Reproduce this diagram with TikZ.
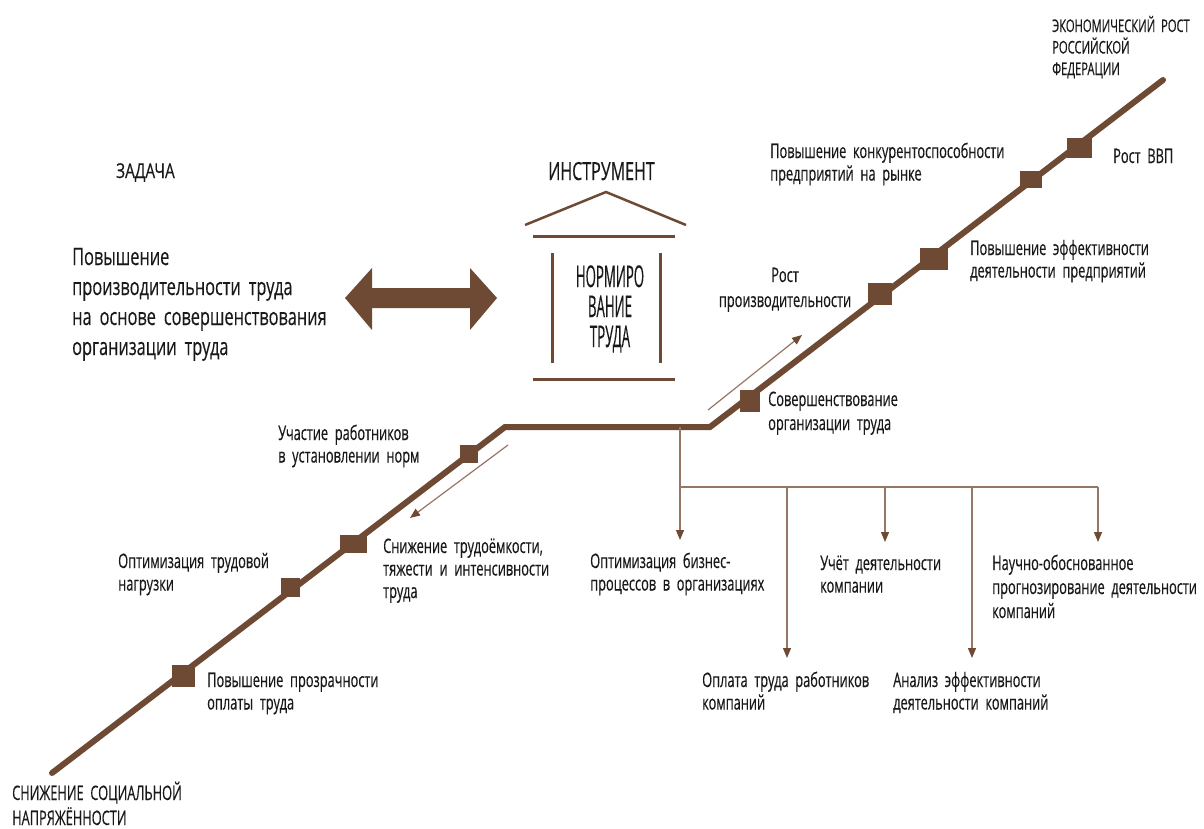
\documentclass[tikz,border=0pt]{standalone}
\usepackage{fontspec}
\setmainfont{Open Sans}
\newfontfamily\cf[FakeStretch=0.64,FakeBold=0.3]{Open Sans}
\newfontfamily\cfb[FakeStretch=0.68,FakeBold=0.3]{Open Sans}
\newfontfamily\cfc[FakeStretch=0.75,FakeBold=0.3]{Open Sans}
\newfontfamily\cfn[FakeStretch=0.44,FakeBold=0.3]{Open Sans}
\newcommand\wsSmall{\spaceskip=4.6pt plus 1pt minus 0.5pt\relax}
\newcommand\wsBig{\spaceskip=6pt plus 1pt minus 0.5pt\relax}
\newcommand\wsCaps{\spaceskip=5pt plus 1pt minus 0.5pt\relax}
\usetikzlibrary{arrows.meta}
\definecolor{brn}{RGB}{110,74,52}
\definecolor{thinc}{RGB}{150,118,100}
\definecolor{txt}{RGB}{25,25,25}
\tikzset{
  lbl/.style={anchor=base west, inner sep=0pt, text width=330pt, align=left, text=txt,
              font=\cf\fontsize{20}{22.5}\selectfont\wsSmall},
  clbl/.style={anchor=base, inner sep=0pt, text width=220pt, align=center, text=txt,
              font=\cf\fontsize{20}{25}\selectfont\wsSmall},
  mainline/.style={draw=brn, line width=6pt, line cap=round, line join=miter},
  stepmark/.style={fill=brn, draw=none},
  building/.style={draw=brn, line width=3pt},
  thinline/.style={draw=thinc, line width=1.2pt},
  tarrow/.style={draw=thinc, line width=1.2pt, -{Triangle[length=10pt,width=8pt,color=brn]}},
}
\begin{document}
\begin{tikzpicture}[x=1pt,y=-1pt]
\useasboundingbox[fill=white] (0,0) rectangle (1204,828);

% ---------- main staircase line ----------
\coordinate (p0) at (52,773);
\coordinate (p1) at (505,427);
\coordinate (p2) at (710,427);
\coordinate (p3) at (1163,80);
\draw[mainline] (p0) -- (p1) -- (p2) -- (p3);

% step markers
\fill[stepmark] (172,665) rectangle (195,687);
\fill[stepmark] (281,578) rectangle (300,597);
\fill[stepmark] (340,535) rectangle (367,553);
\fill[stepmark] (460,445) rectangle (478,463);
\fill[stepmark] (740,390) rectangle (760,412);
\fill[stepmark] (868,283) rectangle (892,305);
\fill[stepmark] (920,248) rectangle (948,270);
\fill[stepmark] (1020,171) rectangle (1042,188);
\fill[stepmark] (1067,138) rectangle (1092,158);

% ---------- headings ----------
\node[anchor=base west, inner sep=0pt, text=txt, font=\cfc\fontsize{20.5}{22}\selectfont] (zad) at (116,178) {ЗАДАЧА};
\node[anchor=base west, inner sep=0pt, text=txt, font=\cf\fontsize{25}{26}\selectfont] (instr) at (548,180) {ИНСТРУМЕНТ};

\node[lbl, font=\cfb\fontsize{24}{30}\selectfont\wsBig] (task) at (72,265)
  {Повышение\\производительности труда\\на основе совершенствования\\организации труда};

% double arrow
\fill[brn] (345,298) -- (372,268) -- (372,288) -- (470,288) -- (470,268) -- (497,298)
  -- (470,330) -- (470,308) -- (372,308) -- (372,330) -- cycle;

% ---------- building ----------
\draw[building, line width=2.5pt] (525,225) -- (606,192) -- (686,225);
\draw[building] (533,236) -- (675,236);
\draw[building] (552,253) -- (552,363);
\draw[building] (660,253) -- (660,363);
\draw[building] (533,379) -- (675,379);
\node[clbl, text width=120pt, font=\cfn\fontsize{30}{30}\selectfont] (norm) at (610,287) {НОРМИРО\\ВАНИЕ\\ТРУДА};

% ---------- lower-left labels ----------
\node[lbl] (uch) at (278,440) {Участие работников\\в установлении норм};
\node[lbl] (opt) at (118,568) {Оптимизация трудовой\\нагрузки};
\node[lbl] (snz) at (383,553) {Снижение трудоёмкости,\\тяжести и интенсивности\\труда};
\node[lbl] (prz) at (207,687) {Повышение прозрачности\\оплаты труда};
\node[lbl, font=\cf\fontsize{20}{25}\selectfont\wsCaps] (soc) at (12,800) {СНИЖЕНИЕ СОЦИАЛЬНОЙ\\НАПРЯЖЁННОСТИ};

% ---------- upper-right labels ----------
\node[lbl, font=\cf\fontsize{20}{24}\selectfont\wsSmall] (sov) at (768,406) {Совершенствование\\организации труда};
\node[clbl] (rpr) at (785,282) {Рост\\производительности};
\node[lbl] (eff) at (970,255) {Повышение эффективности\\деятельности предприятий};
\node[lbl] (kon) at (770,158) {Повышение конкурентоспособности\\предприятий на рынке};
\node[lbl] (vvp) at (1113,163) {Рост ВВП};
\node[lbl, font=\cf\fontsize{17.5}{21.5}\selectfont\wsCaps] (eco) at (1052,32) {ЭКОНОМИЧЕСКИЙ РОСТ\\РОССИЙСКОЙ\\ФЕДЕРАЦИИ};

% ---------- thin direction arrows ----------
\coordinate (d1s) at (508,445);
\coordinate (d1e) at (410,518);
\draw[tarrow] (d1s) -- (d1e);
\coordinate (d2s) at (708,410);
\coordinate (d2e) at (802,335);
\draw[tarrow] (d2s) -- (d2e);

% ---------- tree of results ----------
\coordinate (t0) at (680,427);
\coordinate (h0) at (680,487);
\coordinate (h5) at (1098,487);
\coordinate (h2) at (787,487);
\coordinate (h3) at (885,487);
\coordinate (h4) at (972,487);
\coordinate (e1) at (680,540);
\coordinate (e2) at (787,658);
\coordinate (e3) at (885,542);
\coordinate (e4) at (972,658);
\coordinate (e5) at (1098,542);
\draw[thinline] (h0) -- (h5);
\draw[tarrow] (t0) -- (e1);
\draw[tarrow] (h2) -- (e2);
\draw[tarrow] (h3) -- (e3);
\draw[tarrow] (h4) -- (e4);
\draw[tarrow] (h5) -- (e5);

\node[lbl] (biz) at (590,568) {Оптимизация бизнес-\\процессов в организациях};
\node[lbl] (uchet) at (820,570) {Учёт деятельности\\компании};
\node[lbl, font=\cf\fontsize{20}{24}\selectfont\wsSmall] (nauch) at (992,570) {Научно-обоснованное\\прогнозирование деятельности\\компаний};
\node[lbl] (opl) at (702,687) {Оплата труда работников\\компаний};
\node[lbl] (anl) at (893,687) {Анализ эффективности\\деятельности компаний};
\end{tikzpicture}
\end{document}
